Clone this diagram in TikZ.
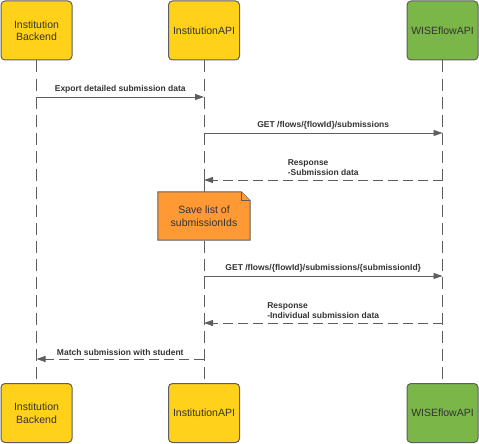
\documentclass[tikz,border=0pt]{standalone}
\usepackage{fontspec}
\setmainfont{Liberation Sans}
\usetikzlibrary{arrows.meta}
\definecolor{lineGray}{HTML}{5E5E5E}
\definecolor{textGray}{HTML}{333333}
\definecolor{actorYellow}{HTML}{FFD11A}
\definecolor{actorGreen}{HTML}{7AB648}
\definecolor{noteOrange}{HTML}{FF9933}
\tikzset{
    actor/.style={draw=lineGray, line width=1pt, rounded corners=4pt, minimum width=71pt, minimum height=59pt, align=center, text=textGray, font=\fontsize{10.5}{12.5}\selectfont},
    lifeline/.style={draw=lineGray, line width=0.9pt, dash pattern=on 12pt off 6pt},
    msg/.style={draw=lineGray, line width=0.9pt, -{Triangle[length=9pt,width=6pt]}},
    reply/.style={msg, dash pattern=on 10pt off 5pt},
    msglabel/.style={text=textGray, font=\fontsize{8.5}{9.5}\selectfont\bfseries, align=left, inner sep=1pt},
    notetext/.style={text=textGray, font=\fontsize{10.5}{13}\selectfont, align=center, minimum width=92pt, minimum height=48pt, inner sep=0pt}
}

\begin{document}
\begin{tikzpicture}[x=1pt, y=-1pt]
        \useasboundingbox (0,0) rectangle (479,444);
        % actors, top and bottom
        \node[actor, fill=actorYellow] (backendtop) at (36.5,30.5) {Institution\\Backend};
        \node[actor, fill=actorYellow] (apitop) at (204,30.5) {InstitutionAPI};
        \node[actor, fill=actorGreen] (wisetop) at (442.5,30.5) {WISEflowAPI};
        \node[actor, fill=actorYellow] (backendbot) at (36.5,413) {Institution\\Backend};
        \node[actor, fill=actorYellow] (apibot) at (204,413) {InstitutionAPI};
        \node[actor, fill=actorGreen] (wisebot) at (442.5,413) {WISEflowAPI};
        % lifelines
        \draw[lifeline] (backendtop.south) -- (backendbot.north);
        \draw[lifeline] (apitop.south) -- (apibot.north);
        \draw[lifeline] (wisetop.south) -- (wisebot.north);
        % message heights
        \coordinate (m1) at (0,97);
        \coordinate (m2) at (0,133);
        \coordinate (m3) at (0,180);
        \coordinate (m4) at (0,276);
        \coordinate (m5) at (0,323);
        \coordinate (m6) at (0,359);
        % note
        \node[notetext] (note) at (204,216) {Save list of\\submissionIds};
        \draw[draw=lineGray, line width=1pt, fill=noteOrange] (note.south west) -- (note.north west) -- ([xshift=-9pt]note.north east) -- ([yshift=-9pt]note.north east) -- (note.south east) -- cycle;
        \draw[draw=lineGray, line width=0.8pt, fill=noteOrange] ([xshift=-9pt]note.north east) -- ([xshift=-9pt,yshift=-9pt]note.north east) -- ([yshift=-9pt]note.north east);
        \node[notetext] at (note) {Save list of\\submissionIds};
        \draw[draw=lineGray, line width=0.9pt] (apitop.south |- m3) -- (note.north);
        % messages
        \draw[msg] (backendtop.south |- m1) -- (apitop.south |- m1) node[midway, above=2pt, msglabel] {Export detailed submission data};
        \draw[msg] (apitop.south |- m2) -- (wisetop.south |- m2) node[midway, above=2pt, msglabel] {GET /flows/\{flowId\}/submissions};
        \draw[reply] (wisetop.south |- m3) -- (apitop.south |- m3) node[midway, above=3pt, msglabel] {Response\\-Submission data};
        \draw[msg] (apitop.south |- m4) -- (wisetop.south |- m4) node[midway, above=2pt, msglabel] {GET /flows/\{flowId\}/submissions/\{submissionId\}};
        \draw[reply] (wisetop.south |- m5) -- (apitop.south |- m5) node[midway, above=3pt, msglabel] {Response\\-Individual submission data};
        \draw[reply] (apitop.south |- m6) -- (backendtop.south |- m6) node[midway, above=2pt, msglabel] {Match submission with student};
    \end{tikzpicture}
\end{document}
